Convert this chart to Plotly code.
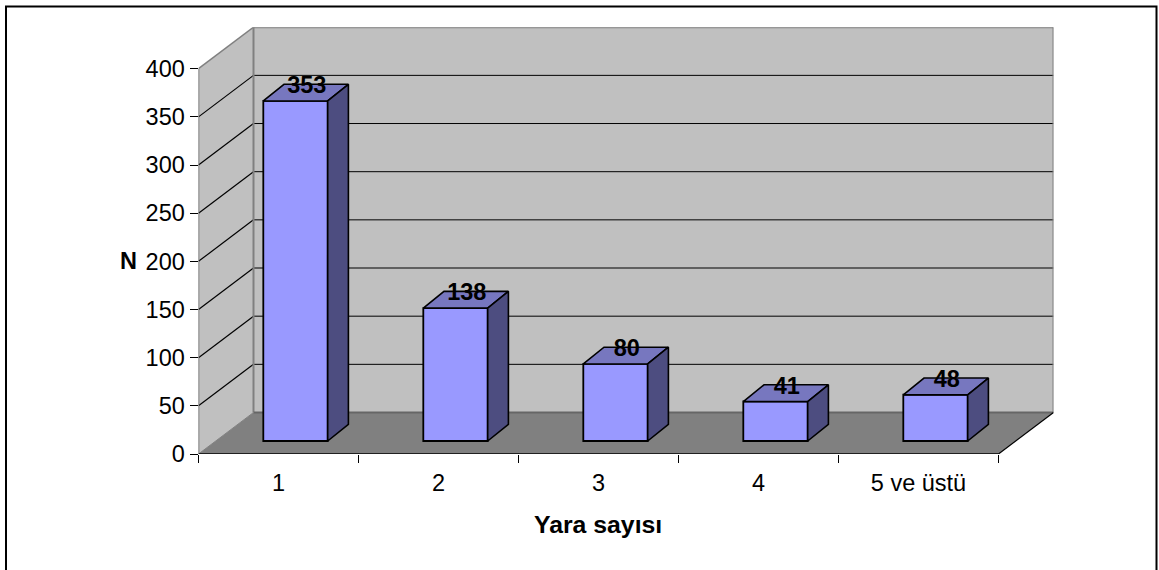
import plotly.graph_objects as go

# Wound-count distribution
categories = ["1", "2", "3", "4", "5 ve üstü"]
counts = [353, 138, 80, 41, 48]
y_ticks = [0, 50, 100, 150, 200, 250, 300, 350, 400]
x_title = "Yara sayısı"
y_title = "N"

W, H = 1159, 570
FONT = "Liberation Sans"
FONT_SIZE = 23.5

# Pixel placement of the oblique box
LEFT, BOTTOM = 198.5, 454.0
CAT_PX = 160.0
PX_PER_UNIT = 385.3 / 400
BOX_DX, BOX_DY = 55.0, 41.5
N = len(categories)


def px_x(px):
    """Horizontal pixel distance expressed in category units."""
    return px / CAT_PX


def px_y(px):
    """Vertical pixel distance expressed in value units."""
    return px / PX_PER_UNIT


x_lo = -0.5
x_hi = N - 0.5
x_max = x_hi + px_x(BOX_DX)
y_max = 400 + px_y(BOX_DY)
depth_x, depth_y = px_x(BOX_DX), px_y(BOX_DY)

# Bars sit partway into the box and have a shallower depth of their own
bar_shift_x, bar_shift_y = px_x(17), px_y(13)
bar_dx, bar_dy = px_x(20.7), px_y(16.7)
bar_w = px_x(64.4)

WALL = "#c0c0c0"
FLOOR = "#808080"
EDGE = "#808080"
FRONT = "#9999ff"
TOP = "#7777bf"
SIDE = "#4d4d80"


def poly(xs, ys, fill, line=None, width=0):
    pts = list(zip(xs, ys))
    path = "M " + " L ".join(f"{a},{b}" for a, b in pts) + " Z"
    return dict(type="path", path=path, xref="x", yref="y", layer="below",
                fillcolor=fill, line=dict(color=line or fill, width=width))


def seg(x0, y0, x1, y1, color, width=1.0):
    return dict(type="line", x0=x0, y0=y0, x1=x1, y1=y1, xref="x", yref="y",
                layer="below", line=dict(color=color, width=width))


shapes = [
    # Side wall, back wall, floor
    poly([x_lo, x_lo + depth_x, x_lo + depth_x, x_lo],
         [0, depth_y, 400 + depth_y, 400], WALL),
    poly([x_lo + depth_x, x_max, x_max, x_lo + depth_x],
         [depth_y, depth_y, 400 + depth_y, 400 + depth_y], WALL),
    poly([x_lo, x_hi, x_max, x_lo + depth_x],
         [0, 0, depth_y, depth_y], FLOOR),
]
for t in y_ticks[1:-1]:
    shapes.append(seg(x_lo, t, x_lo + depth_x, t + depth_y, "black", 1.2))
    shapes.append(seg(x_lo + depth_x, t + depth_y, x_max, t + depth_y, "black"))
shapes += [
    seg(x_lo, 0, x_lo, 400, "#666666", 1.5),
    seg(x_lo, 400, x_lo + depth_x, 400 + depth_y, EDGE, 1.5),
    seg(x_lo + depth_x, 400 + depth_y, x_max, 400 + depth_y, EDGE, 2),
    seg(x_max, depth_y, x_max, 400 + depth_y, EDGE, 2),
    seg(x_lo + depth_x, depth_y, x_lo + depth_x, 400 + depth_y, EDGE, 2),
    seg(x_lo + depth_x, depth_y, x_max, depth_y, "#666666", 2),
    seg(x_lo, 0, x_lo + depth_x, depth_y, EDGE, 1),
    seg(x_lo, 0, x_hi, 0, "black", 1.5),
    seg(x_hi, 0, x_max, depth_y, "black", 1.2),
    # Outer chart frame, open past the bottom of the page
    dict(type="rect", xref="paper", yref="paper",
         x0=6 / W, x1=1156.5 / W, y0=-0.05, y1=1 - 6.5 / H,
         line=dict(color="black", width=2), layer="above"),
]

fig = go.Figure()

# Top and right faces of each bar, worked out from its value
for i, v in enumerate(counts):
    x0 = i - bar_w / 2 + bar_shift_x
    x1 = x0 + bar_w
    y0 = bar_shift_y
    y1 = v + bar_shift_y
    fig.add_trace(go.Scatter(
        x=[x0, x1, x1 + bar_dx, x0 + bar_dx, x0],
        y=[y1, y1, y1 + bar_dy, y1 + bar_dy, y1],
        mode="lines", fill="toself", fillcolor=TOP,
        line=dict(color="black", width=1.6), hoverinfo="skip"))
    fig.add_trace(go.Scatter(
        x=[x1, x1 + bar_dx, x1 + bar_dx, x1, x1],
        y=[y0, y0 + bar_dy, y1 + bar_dy, y1, y0],
        mode="lines", fill="toself", fillcolor=SIDE,
        line=dict(color="black", width=1.6), hoverinfo="skip"))

# Front faces
fig.add_trace(go.Bar(
    x=list(range(N)), y=counts, base=bar_shift_y, width=bar_w,
    offset=-bar_w / 2 + bar_shift_x,
    marker=dict(color=FRONT, line=dict(color="black", width=1.8)),
    hoverinfo="skip"))

# Value labels on the rear edge of each top face
fig.add_trace(go.Scatter(
    x=[i + bar_shift_x + bar_dx / 2 + px_x(1) for i in range(N)],
    y=[v + bar_shift_y + bar_dy - px_y(3) for v in counts],
    text=[str(v) for v in counts],
    mode="text", textposition="middle center",
    textfont=dict(family=FONT, size=FONT_SIZE, color="black", weight="bold"),
    cliponaxis=False, hoverinfo="skip"))

annotations = [
    dict(text=f"<b>{x_title}</b>", xref="paper", yref="paper",
         x=597.5 / W, y=1 - 524 / H, showarrow=False,
         xanchor="center", yanchor="middle",
         font=dict(family=FONT, size=24.8, color="black")),
    dict(text=f"<b>{y_title}</b>", xref="paper", yref="paper",
         x=128 / W, y=1 - 261 / H, showarrow=False,
         xanchor="center", yanchor="middle",
         font=dict(family=FONT, size=FONT_SIZE, color="black")),
]

fig.update_layout(
    width=W, height=H, margin=dict(l=0, r=0, t=0, b=0),
    paper_bgcolor="white", plot_bgcolor="rgba(0,0,0,0)",
    showlegend=False, shapes=shapes, annotations=annotations,
    font=dict(family=FONT, size=FONT_SIZE, color="black"),
    xaxis=dict(
        domain=[LEFT / W, (LEFT + CAT_PX * N + BOX_DX) / W],
        range=[x_lo, x_max], tickmode="array",
        tickvals=list(range(N)), ticktext=categories,
        ticks="", showgrid=False, zeroline=False, showline=False,
        ticklabelstandoff=12, automargin=False,
        minor=dict(tickmode="array", tickvals=[i - 0.5 for i in range(N + 1)],
                   ticks="outside", ticklen=8, tickcolor="black", tickwidth=1,
                   showgrid=False),
    ),
    yaxis=dict(
        domain=[1 - BOTTOM / H, 1 - (BOTTOM - 400 * PX_PER_UNIT - BOX_DY) / H],
        range=[0, y_max], tickmode="array", tickvals=y_ticks,
        ticks="outside", ticklen=8, tickcolor="black", tickwidth=1,
        showgrid=False, zeroline=False, showline=False, automargin=False,
    ),
)

fig.write_html("out.html", config=dict(displayModeBar=False))
